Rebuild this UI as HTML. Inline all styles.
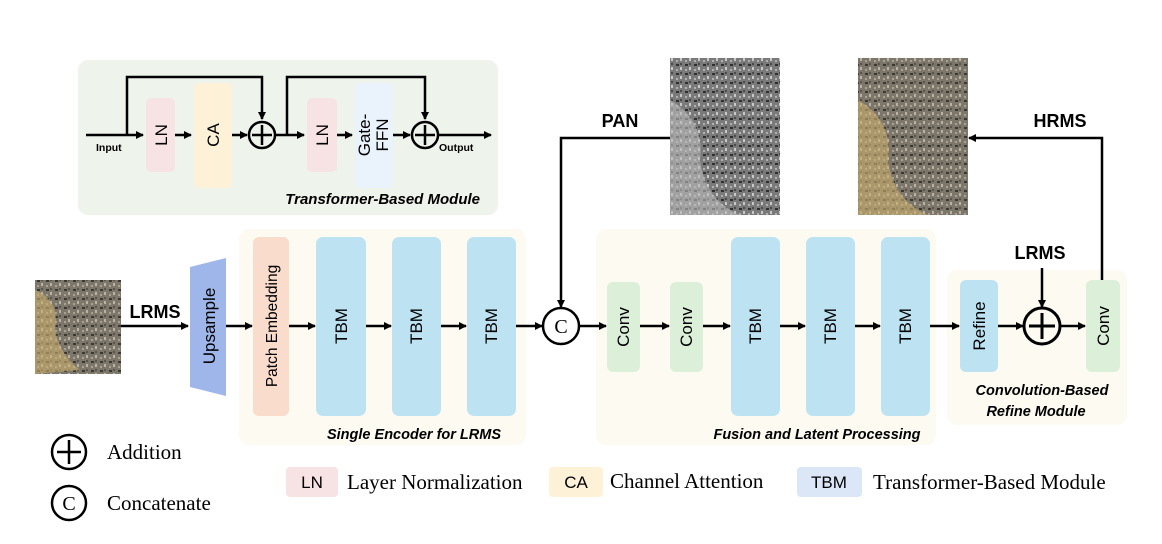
<!DOCTYPE html>
<html><head><meta charset="utf-8"><style>body{margin:0;background:#fff}svg{display:block}</style></head><body>
<svg width="1162" height="544" viewBox="0 0 1162 544" xmlns="http://www.w3.org/2000/svg" font-family="Liberation Sans, sans-serif">
<defs>
<marker id="a" markerWidth="8" markerHeight="8" refX="7" refY="4" orient="auto" markerUnits="userSpaceOnUse"><path d="M0,0 L8,4 L0,8 z" fill="#000"/></marker>
<pattern id="city" width="9" height="9" patternUnits="userSpaceOnUse"><rect width="9" height="9" fill="#7d776b"/><rect x="1" y="1" width="3" height="2" fill="#3b3832"/><rect x="5" y="4" width="2" height="3" fill="#b9b3a6"/><rect x="5" y="0" width="2" height="2" fill="#5a554c"/><rect x="1" y="6" width="2" height="2" fill="#a8a294"/></pattern>
<pattern id="cityg" width="9" height="9" patternUnits="userSpaceOnUse"><rect width="9" height="9" fill="#7a7a7a"/><rect x="1" y="1" width="3" height="2" fill="#2f2f2f"/><rect x="5" y="4" width="2" height="3" fill="#c8c8c8"/><rect x="5" y="0" width="2" height="2" fill="#4a4a4a"/><rect x="1" y="6" width="2" height="2" fill="#b0b0b0"/></pattern>
</defs>
<rect x="78" y="60" width="420" height="155" rx="10" fill="#eef3ec"/>
<rect x="146" y="98" width="29" height="74" rx="5" fill="#f8e3e4"/>
<rect x="194" y="83" width="38" height="105" rx="5" fill="#fdf1d8"/>
<rect x="307" y="98" width="30" height="74" rx="5" fill="#f8e3e4"/>
<rect x="355" y="83" width="38" height="105" rx="5" fill="#eaf3fb"/>
<g stroke="#000" stroke-width="2.5" fill="none">
<line x1="86" y1="135" x2="143" y2="135" marker-end="url(#a)"/>
<polyline points="127,135 127,77 262,77 262,119" marker-end="url(#a)"/>
<line x1="175" y1="135" x2="191" y2="135" marker-end="url(#a)"/>
<line x1="232" y1="135" x2="247" y2="135" marker-end="url(#a)"/>
<circle cx="262" cy="135" r="13"/><line x1="252" y1="135" x2="272" y2="135"/><line x1="262" y1="125" x2="262" y2="145"/>
<line x1="275" y1="135" x2="304" y2="135" marker-end="url(#a)"/>
<polyline points="287,135 287,77 425,77 425,119" marker-end="url(#a)"/>
<line x1="337" y1="135" x2="352" y2="135" marker-end="url(#a)"/>
<line x1="393" y1="135" x2="410" y2="135" marker-end="url(#a)"/>
<circle cx="425" cy="135" r="13"/><line x1="415" y1="135" x2="435" y2="135"/><line x1="425" y1="125" x2="425" y2="145"/>
<line x1="438" y1="135" x2="491" y2="135" marker-end="url(#a)"/>
</g>
<text x="96" y="151" font-size="10.5" font-weight="bold">Input</text>
<text x="439" y="151" font-size="10.5" font-weight="bold">Output</text>
<g font-size="17" text-anchor="middle">
<text transform="translate(167,135) rotate(-90)">LN</text>
<text transform="translate(219,135) rotate(-90)">CA</text>
<text transform="translate(328,135) rotate(-90)">LN</text>
<text transform="translate(370,135) rotate(-90)">Gate-</text>
<text transform="translate(388,135) rotate(-90)">FFN</text>
</g>
<text x="480" y="204" font-size="15" font-weight="bold" font-style="italic" text-anchor="end">Transformer-Based Module</text>

<rect x="239" y="229" width="287" height="216" rx="10" fill="#fdfaf1"/>
<rect x="596" y="229" width="340" height="216" rx="10" fill="#fdfaf1"/>
<rect x="947" y="270" width="180" height="155" rx="10" fill="#fdfaf1"/>

<rect x="35" y="280" width="86" height="94" fill="url(#city)"/>
<path d="M35,290 Q60,300 55,330 Q60,355 80,370 L35,374z" fill="#c9ad6c" opacity="0.6"/>
<rect x="670" y="58" width="110" height="157" fill="url(#cityg)"/>
<path d="M670,100 Q705,120 700,160 Q705,200 740,215 L670,215z" fill="#bbb" opacity="0.6"/>
<rect x="858" y="58" width="110" height="157" fill="url(#city)"/>
<path d="M858,100 Q893,120 888,160 Q893,200 928,215 L858,215z" fill="#c9ad6c" opacity="0.6"/>

<polygon points="190,267 226,258 226,396 190,387" fill="#9fb6ea"/>
<rect x="253" y="237" width="36" height="179" rx="6" fill="#f9dccb"/>
<g fill="#bde3f3">
<rect x="316" y="237" width="50" height="179" rx="7"/>
<rect x="392" y="237" width="49" height="179" rx="7"/>
<rect x="467" y="237" width="49" height="179" rx="7"/>
<rect x="731" y="237" width="49" height="179" rx="7"/>
<rect x="806" y="237" width="49" height="179" rx="7"/>
<rect x="881" y="237" width="49" height="179" rx="7"/>
<rect x="960" y="280" width="38" height="92" rx="6"/>
</g>
<g fill="#dcefd9">
<rect x="607" y="282" width="33" height="90" rx="6"/>
<rect x="670" y="282" width="33" height="90" rx="6"/>
<rect x="1086" y="280" width="34" height="92" rx="6"/>
</g>
<g stroke="#000" stroke-width="2.5" fill="none">
<line x1="121" y1="326" x2="188" y2="326" marker-end="url(#a)"/>
<line x1="226" y1="326" x2="252" y2="326" marker-end="url(#a)"/>
<line x1="289" y1="326" x2="315" y2="326" marker-end="url(#a)"/>
<line x1="366" y1="326" x2="391" y2="326" marker-end="url(#a)"/>
<line x1="441" y1="326" x2="466" y2="326" marker-end="url(#a)"/>
<line x1="516" y1="326" x2="542" y2="326" marker-end="url(#a)"/>
<circle cx="561" cy="326" r="18"/>
<polyline points="670,138 561,138 561,307" marker-end="url(#a)"/>
<line x1="579" y1="326" x2="606" y2="326" marker-end="url(#a)"/>
<line x1="640" y1="326" x2="669" y2="326" marker-end="url(#a)"/>
<line x1="703" y1="326" x2="730" y2="326" marker-end="url(#a)"/>
<line x1="780" y1="326" x2="805" y2="326" marker-end="url(#a)"/>
<line x1="855" y1="326" x2="880" y2="326" marker-end="url(#a)"/>
<line x1="930" y1="326" x2="959" y2="326" marker-end="url(#a)"/>
<line x1="998" y1="326" x2="1023" y2="326" marker-end="url(#a)"/>
<circle cx="1042" cy="326" r="18" stroke-width="3"/><line x1="1029" y1="326" x2="1055" y2="326" stroke-width="3"/><line x1="1042" y1="313" x2="1042" y2="339" stroke-width="3"/>
<line x1="1042" y1="268" x2="1042" y2="307" marker-end="url(#a)"/>
<line x1="1060" y1="326" x2="1085" y2="326" marker-end="url(#a)"/>
<polyline points="1102,280 1102,138 969,138" marker-end="url(#a)"/>
</g>
<text x="561" y="333" font-size="20" font-family="Liberation Serif, serif" text-anchor="middle">C</text>
<g font-size="18" font-weight="bold" text-anchor="middle">
<text x="155" y="318">LRMS</text>
<text x="620" y="127">PAN</text>
<text x="1060" y="127">HRMS</text>
<text x="1040" y="259">LRMS</text>
</g>
<g font-size="17" text-anchor="middle">
<text transform="translate(215,326) rotate(-90)">Upsample</text>
<text transform="translate(277,326) rotate(-90)" font-size="15.5">Patch Embedding</text>
<text transform="translate(347,326) rotate(-90)">TBM</text>
<text transform="translate(422,326) rotate(-90)">TBM</text>
<text transform="translate(497,326) rotate(-90)">TBM</text>
<text transform="translate(629,327) rotate(-90)">Conv</text>
<text transform="translate(692,327) rotate(-90)">Conv</text>
<text transform="translate(761,326) rotate(-90)">TBM</text>
<text transform="translate(836,326) rotate(-90)">TBM</text>
<text transform="translate(911,326) rotate(-90)">TBM</text>
<text transform="translate(985,326) rotate(-90)">Refine</text>
<text transform="translate(1109,326) rotate(-90)">Conv</text>
</g>
<g font-size="14.5" font-weight="bold" font-style="italic" text-anchor="middle">
<text x="414" y="439">Single Encoder for LRMS</text>
<text x="817" y="439">Fusion and Latent Processing</text>
<text x="1042" y="395">Convolution-Based</text>
<text x="1036" y="416">Refine Module</text>
</g>

<g stroke="#000" stroke-width="2.5" fill="none">
<circle cx="69" cy="452" r="17"/><line x1="57" y1="452" x2="81" y2="452"/><line x1="69" y1="440" x2="69" y2="464"/>
<circle cx="69" cy="503" r="17"/>
</g>
<text x="69" y="510" font-size="20" font-family="Liberation Serif, serif" text-anchor="middle">C</text>
<g font-family="Liberation Serif, serif" font-size="21">
<text x="107" y="459">Addition</text>
<text x="107" y="510">Concatenate</text>
<text x="347" y="489">Layer Normalization</text>
<text x="610" y="488">Channel Attention</text>
<text x="873" y="489">Transformer-Based Module</text>
</g>
<rect x="286" y="467" width="52" height="30" rx="4" fill="#f8e3e4"/>
<rect x="549" y="467" width="54" height="30" rx="4" fill="#fdf1d8"/>
<rect x="797" y="467" width="65" height="30" rx="4" fill="#dbe6f6"/>
<g font-size="17" text-anchor="middle">
<text x="312" y="488">LN</text>
<text x="576" y="488">CA</text>
<text x="829" y="488">TBM</text>
</g>
</svg>
</body></html>
